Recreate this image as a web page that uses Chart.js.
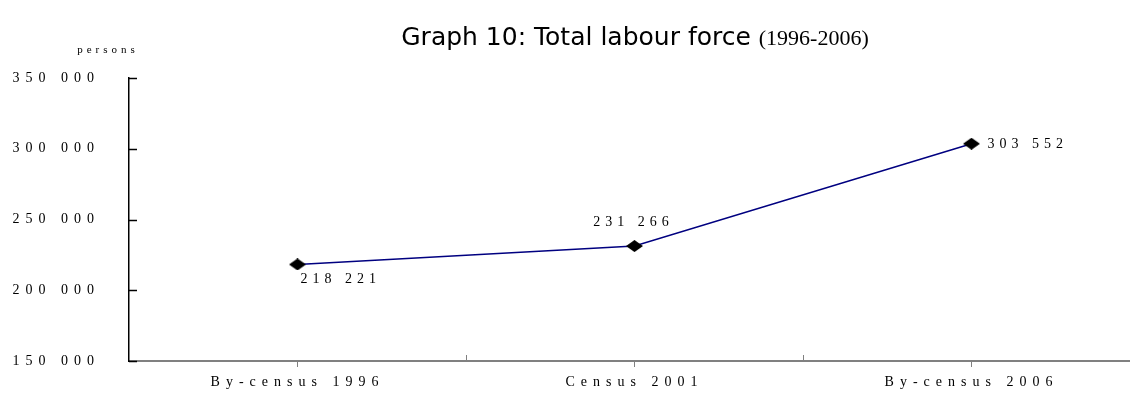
<!DOCTYPE html>
<html>
<head>
<meta charset="utf-8">
<title>Total labour force</title>
<script src="https://cdn.jsdelivr.net/npm/chart.js@4/dist/chart.umd.min.js"></script>
<style>
  html, body { margin: 0; padding: 0; background: #fff; overflow: hidden; }
  #wrap { position: relative; width: 1130px; height: 394px; overflow: hidden; }
  #title {
    position: absolute; left: 0; top: 22px; width: 1270px;
    text-align: center; white-space: nowrap; color: #000;
    font-family: "DejaVu Sans", sans-serif; font-size: 25px; line-height: 30px;
  }
  #title span { font-family: "Liberation Serif", serif; font-size: 22px; }
</style>
</head>
<body>
<div id="wrap">
  <canvas id="canvas-1"></canvas>
  <div id="title">Graph 10: Total labour force <span>(1996-2006)</span></div>
</div>
<script>
// census rounds and labour force counts
var categories = ['By-census 1996', 'Census 2001', 'By-census 2006'];
var labourForce = [218221, 231266, 303552];
var yTicks = [150000, 200000, 250000, 300000, 350000];

var fmt = function (v) {
  return String(v).replace(/\B(?=(\d{3})+(?!\d))/g, ' ');
};

// flat black diamond used as the point marker
var diamond = document.createElement('canvas');
diamond.width = 17;
diamond.height = 12;
var dctx = diamond.getContext('2d');
dctx.fillStyle = '#000';
dctx.beginPath();
dctx.moveTo(0, 6);
dctx.lineTo(8.5, 0);
dctx.lineTo(17, 6);
dctx.lineTo(8.5, 12);
dctx.closePath();
dctx.fill();

// the x axis runs on a little past the right edge of the canvas
var stretchX = function (chart) {
  var x = chart.scales.x;
  var right = chart.width + 10;
  x.right = right;
  x.width = right - x.left;
  x.configure();
  chart.chartArea.right = right;
  chart.chartArea.width = right - chart.chartArea.left;
};

// spaced-out lettering, inner tick marks, unit label and value labels
var decor = {
  id: 'decor',
  afterLayout: stretchX,
  beforeDatasetsUpdate: stretchX,
  beforeDraw: function (chart) {
    chart.ctx.letterSpacing = '6px';
  },
  afterDraw: function (chart) {
    var ctx = chart.ctx;
    var area = chart.chartArea;
    var x = chart.scales.x;
    var y = chart.scales.y;
    ctx.save();

    ctx.strokeStyle = '#000';
    ctx.lineWidth = 1.5;
    yTicks.forEach(function (v) {
      var py = Math.round(y.getPixelForValue(v)) + 0.5;
      ctx.beginPath();
      ctx.moveTo(area.left, py);
      ctx.lineTo(area.left + 8, py);
      ctx.stroke();
    });

    ctx.strokeStyle = '#808080';
    ctx.lineWidth = 1;
    for (var i = 1; i < categories.length; i++) {
      var px = Math.round((x.getPixelForValue(i - 1) + x.getPixelForValue(i)) / 2) + 0.5;
      ctx.beginPath();
      ctx.moveTo(px, area.bottom);
      ctx.lineTo(px, area.bottom - 6);
      ctx.stroke();
    }

    ctx.fillStyle = '#000';
    ctx.letterSpacing = '4px';
    ctx.font = '11px "Liberation Serif", serif';
    ctx.textAlign = 'center';
    ctx.textBaseline = 'middle';
    ctx.fillText('persons', 108, 50);

    ctx.letterSpacing = '5px';
    ctx.font = '14px "Liberation Serif", serif';
    var pts = chart.getDatasetMeta(0).data;
    pts.forEach(function (p, i) {
      var text = fmt(labourForce[i]);
      if (i === 0) {
        ctx.textAlign = 'left';
        ctx.fillText(text, p.x + 3, p.y + 15);
      } else if (i === 1) {
        ctx.textAlign = 'center';
        ctx.fillText(text, p.x - 1, p.y - 24);
      } else {
        ctx.textAlign = 'left';
        ctx.fillText(text, p.x + 16, p.y + 1);
      }
    });
    ctx.restore();
  }
};

var lineChart = new Chart(document.getElementById('canvas-1'), {
  type: 'line',
  data: {
    labels: categories,
    datasets: [{
      data: labourForce,
      borderColor: '#000080',
      borderWidth: 1.5,
      pointStyle: diamond,
      pointRadius: 8,
      pointHoverRadius: 8,
      tension: 0
    }]
  },
  options: {
    responsive: true,
    maintainAspectRatio: false,
    animation: false,
    devicePixelRatio: 1,
    layout: { padding: { top: 78, right: 0, bottom: 0, left: 0 } },
    plugins: {
      legend: { display: false },
      title: { display: false },
      tooltip: { enabled: false }
    },
    scales: {
      x: {
        offset: true,
        afterFit: function (scale) { scale.height = 33; },
        grid: { display: true, drawOnChartArea: false, drawTicks: true, tickLength: 6, color: '#808080' },
        border: { display: true, color: '#808080', width: 2 },
        ticks: {
          color: '#000',
          padding: 7,
          font: { family: '"Liberation Serif", serif', size: 14 }
        }
      },
      y: {
        min: 150000,
        max: 350000,
        afterFit: function (scale) { scale.width = 129; },
        afterBuildTicks: function (scale) {
          scale.ticks = yTicks.map(function (v) { return { value: v }; });
        },
        grid: { display: false },
        border: { display: true, color: '#000', width: 1.5 },
        ticks: {
          color: '#000',
          padding: 21,
          font: { family: '"Liberation Serif", serif', size: 14 },
          callback: function (v) { return fmt(v); }
        }
      }
    }
  },
  plugins: [decor]
});
</script>
</body>
</html>
